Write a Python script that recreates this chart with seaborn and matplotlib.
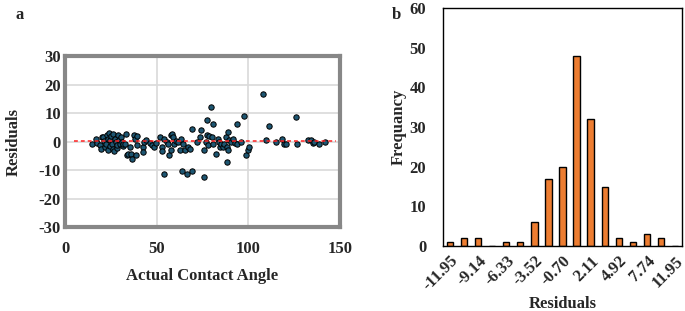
import matplotlib
matplotlib.use("Agg")
import matplotlib.pyplot as plt
import seaborn as sns

# panel a: residuals vs actual contact angle
contact_angle = [14.5, 16.9, 17.6, 19.1, 19.5, 20.0, 20.9, 21.3, 21.8, 22.4, 22.7, 23.2,
                 23.6, 24.2, 24.5, 24.8, 25.1, 25.5, 26.0, 26.4, 26.9, 27.3, 27.8, 28.2,
                 28.5, 29.1, 29.6, 30.0, 30.4, 30.9, 31.5, 31.8, 32.7, 33.3, 33.6, 34.5,
                 35.5, 35.8, 36.4, 37.8, 38.2, 38.7, 39.1, 39.1,
                 42.4, 42.7, 43.3, 44.0, 46.4, 47.3, 48.5, 49.5, 51.8, 52.7, 53.1, 54.0,
                 54.2, 55.5, 56.4, 56.9, 57.6, 57.8, 58.5, 59.1, 59.6, 60.5, 61.8, 62.7,
                 63.3, 63.6, 64.2, 65.5, 66.7, 67.3, 68.2, 69.1, 69.1, 71.8, 73.6, 74.2,
                 75.8, 75.8, 76.9, 77.3, 77.3, 78.2, 78.7, 79.6, 80.0, 80.5, 80.9, 82.4,
                 83.3, 84.0, 84.5, 85.1, 86.0, 86.9, 87.8, 88.2, 88.4, 88.7, 88.7, 89.6,
                 90.5, 91.8, 92.7, 93.6, 94.0, 95.8, 97.6, 98.5, 99.6, 100.5, 108.2, 109.5,
                 111.5, 115.1, 118.2, 119.6, 120.4, 126.0, 126.4, 132.7, 134.2, 135.1, 136.0,
                 138.7, 141.8]
residuals = [-0.6, 1.2, -0.2, -1.2, -2.3, 1.8, 1.8, 0.4, -1.8, -0.8, 2.3, 0.9,
             -2.9, 3.2, 0.8, -1.5, 2.1, -0.6, -2.3, 2.9, -3.2, 1.2, 0.0, -2.0,
             -1.2, 2.3, 0.8, -0.6, 1.8, 0.0, -1.4, -0.8, -0.6, 2.9, -4.4, -4.3,
             -1.8, -4.1, -5.8, 2.3, 1.2, -4.7, -1.2, 2.0,
             -1.8, -3.5, 0.0, 0.8, -0.4, -1.2, -1.8, -0.4, 1.8, -1.8, -3.2, -11.1,
             1.2, 0.0, -0.8, -4.7, -2.7, 2.3, 2.9, 1.8, -0.6, 0.4, 0.0, -2.9,
             1.2, -10.3, -0.8, -2.9, -11.1, -1.8, -2.3, 4.7, -10.2, 0.0, 1.8, 4.1,
             -12.3, -2.9, 0.0, 7.6, 2.3, -1.2, 2.0, 12.3, 1.8, 6.4, -0.6, -4.1,
             1.2, 0.0, -1.8, -0.8, -1.8, -0.8, 1.8, -1.8, -7.0, 3.5, -2.7, 0.8,
             0.0, 1.2, -0.4, -0.8, 6.4, 0.0, 9.0, -4.4, -2.7, -1.8, 17.0, 0.6,
             5.5, 0.0, 1.2, -0.6, -0.8, 8.8, -0.6, 0.6, 0.8, -0.4, 0.0,
             -0.8, 0.0]
fit_x = [5, 148]
fit_y = [0.5, 0.5]

# panel b: residual histogram
bin_labels = ["-11.95", "-10.55", "-9.14", "-7.74", "-6.33", "-4.92", "-3.52", "-2.11",
              "-0.70", "0.70", "2.11", "3.52", "4.92", "6.33", "7.74", "9.14", "11.95"]
frequency = [1, 2, 2, 0, 1, 1, 6, 17, 20, 48, 32, 15, 2, 1, 3, 2, 0]

sns.set_style("white")
plt.rcParams['font.family'] = ['Liberation Serif', 'DejaVu Serif']
plt.rcParams['font.weight'] = 'bold'
plt.rcParams['axes.unicode_minus'] = False

fig = plt.figure(figsize=(6.85, 3.11), dpi=100)

ax1 = fig.add_axes([0.0949, 0.2685, 0.4015, 0.55])
ax1.grid(True, color="#d9d9d9", linewidth=1.2)
ax1.set_axisbelow(True)
sns.scatterplot(x=contact_angle, y=residuals, ax=ax1, color="#1d5672", edgecolor="black",
                s=15, linewidth=0.7, zorder=3)
ax1.plot(fit_x, fit_y, color="#ff2020", linestyle=(0, (2.5, 2)), linewidth=1.1, zorder=4)
ax1.set_xlim(0, 150)
ax1.set_ylim(-30, 30)
ax1.set_xticks([0, 50, 100, 150])
ax1.set_yticks(range(-30, 31, 10))
for s in ax1.spines.values():
    s.set_color("#878787")
    s.set_linewidth(3)
ax1.tick_params(axis='y', length=0, labelsize=12, pad=3)
ax1.tick_params(axis='x', length=0, labelsize=12, pad=10)
ax1.set_xlabel("Actual Contact Angle", fontsize=12, fontweight='bold', labelpad=8)
ax1.set_ylabel("Residuals", fontsize=12, fontweight='bold', labelpad=12)
for lab in ax1.get_xticklabels() + ax1.get_yticklabels():
    lab.set_fontweight('bold')

ax2 = fig.add_axes([0.6467, 0.209, 0.349, 0.765])
sns.barplot(x=bin_labels, y=frequency, ax=ax2, color="#ED7D31", edgecolor="black",
            linewidth=1, width=0.45, saturation=1)
ax2.set_xlim(-0.5, len(bin_labels) - 0.5)
ax2.set_ylim(0, 60)
ax2.set_yticks(range(0, 61, 10))
ax2.set_xticks(range(0, len(bin_labels), 2))
ax2.set_xticklabels(bin_labels[::2], rotation=45, ha='right', va='top',
                    rotation_mode='anchor', fontsize=12, fontweight='bold')
for s in ax2.spines.values():
    s.set_visible(True)
    s.set_color("black")
    s.set_linewidth(1)
ax2.tick_params(axis='y', length=0, labelsize=12, pad=12)
ax2.tick_params(axis='x', length=0, labelsize=12, pad=5)
for lab in ax2.get_yticklabels():
    lab.set_fontweight('bold')
ax2.set_xlabel("Residuals", fontsize=12, fontweight='bold', labelpad=1)
ax2.set_ylabel("Frequancy", fontsize=12, fontweight='bold', labelpad=2)

fig.text(15 / 685, 1 - 15 / 311, "a", fontsize=12, fontweight='bold', va='center')
fig.text(392 / 685, 1 - 15 / 311, "b", fontsize=12, fontweight='bold', va='center')

fig.savefig("out.png", dpi=100)
